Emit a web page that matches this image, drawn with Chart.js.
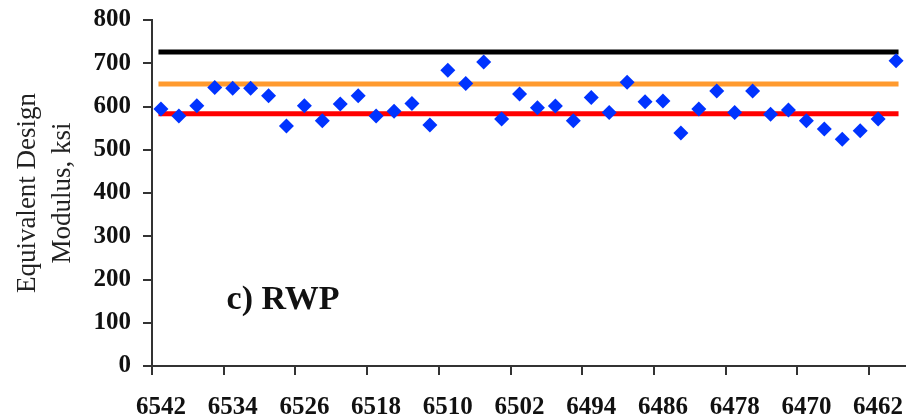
<!DOCTYPE html>
<html>
<head>
<meta charset="utf-8">
<script src="https://cdn.jsdelivr.net/npm/chart.js@4"></script>
<style>
  html, body { margin: 0; padding: 0; background: #fff; }
  #wrap { width: 917px; height: 417px; }
</style>
</head>
<body>
<div id="wrap"><canvas id="modulusChart"></canvas></div>
<script>
// stations, from 6542 down to 6460 in steps of 2
const stations = [
    "6542", "6540", "6538", "6536", "6534", "6532", "6530", "6528", "6526", "6524",
    "6522", "6520", "6518", "6516", "6514", "6512", "6510", "6508", "6506", "6504",
    "6502", "6500", "6498", "6496", "6494", "6492", "6490", "6488", "6486", "6484",
    "6482", "6480", "6478", "6476", "6474", "6472", "6470", "6468", "6466", "6464",
    "6462", "6460"
];

// equivalent design modulus, ksi
const modulus = [
    594, 578, 602, 644, 642, 642, 625, 555, 602, 567,
    606, 625, 578, 589, 607, 557, 684, 653, 703, 571,
    629, 597, 601, 567, 621, 586, 656, 611, 613, 539,
    594, 636, 586, 636, 582, 592, 567, 548, 524, 544,
    571, 706
];

// reference levels
const blackLevel = 726;
const orangeLevel = 652;
const redLevel = 583;

const yTicks = [0, 100, 200, 300, 400, 500, 600, 700, 800];
const labelEvery = 4;

const serif = "'Liberation Serif', 'Times New Roman', serif";

function levelLine(value, color) {
    return {
        type: "line",
        data: [
            { x: stations[0], y: value },
            { x: stations[stations.length - 1], y: value }
        ],
        borderColor: color,
        borderWidth: 5,
        borderCapStyle: "square",
        pointRadius: 0,
        fill: false,
        order: 1
    };
}

const panelLabel = {
    id: "panelLabel",
    afterDatasetsDraw(chart) {
        const { ctx, chartArea } = chart;
        ctx.save();
        ctx.font = "bold 34px " + serif;
        ctx.fillStyle = "#111";
        ctx.textAlign = "left";
        ctx.textBaseline = "alphabetic";
        const x = chartArea.left + (chartArea.right - chartArea.left) * 0.099;
        const y = chartArea.top + (chartArea.bottom - chartArea.top) * 0.835;
        ctx.fillText("c) RWP", x, y);
        ctx.restore();
    }
};

const ctx = document.getElementById("modulusChart").getContext("2d");

let chart = new Chart(ctx, {
    type: "line",
    data: {
        labels: stations,
        datasets: [
            {
                label: "Modulus",
                data: modulus,
                showLine: false,
                pointStyle: "rectRot",
                pointRadius: 7.5,
                pointBackgroundColor: "#0033ff",
                pointBorderColor: "#0033ff",
                pointBorderWidth: 0,
                order: 0
            },
            levelLine(blackLevel, "#000000"),
            levelLine(orangeLevel, "#ff9a2e"),
            levelLine(redLevel, "#ff0000")
        ]
    },
    options: {
        responsive: true,
        maintainAspectRatio: false,
        animation: false,
        layout: { padding: { top: 20, right: 12, left: 0, bottom: 0 } },
        plugins: {
            legend: { display: false },
            tooltip: { enabled: false }
        },
        scales: {
            x: {
                type: "category",
                offset: true,
                afterFit: (scale) => { scale.height = 51; },
                border: { display: true, color: "#333", width: 2 },
                grid: {
                    offset: true,
                    drawOnChartArea: false,
                    tickLength: 9,
                    lineWidth: 2,
                    color: (c) => c.index % labelEvery === 0 ? "#333" : "rgba(0,0,0,0)",
                    tickColor: (c) => c.index % labelEvery === 0 ? "#333" : "rgba(0,0,0,0)"
                },
                ticks: {
                    autoSkip: false,
                    maxRotation: 0,
                    padding: 18,
                    color: "#111",
                    font: { family: serif, size: 25, weight: "bold" },
                    callback: (val, i) => i % labelEvery === 0 ? stations[i] : ""
                }
            },
            y: {
                min: yTicks[0],
                max: yTicks[yTicks.length - 1],
                afterFit: (scale) => {
                    scale.width = 152;
                    scale.paddingTop = 20;
                },
                afterBuildTicks: (scale) => { scale.ticks = yTicks.map(v => ({ value: v })); },
                border: { display: true, color: "#333", width: 2 },
                grid: {
                    drawOnChartArea: false,
                    tickLength: 9,
                    lineWidth: 2,
                    color: "#333"
                },
                ticks: {
                    padding: 12,
                    color: "#111",
                    font: { family: serif, size: 25, weight: "bold" }
                },
                title: {
                    display: true,
                    text: ["Equivalent Design", "Modulus, ksi"],
                    color: "#222",
                    padding: { top: 10, bottom: 0 },
                    font: { family: serif, size: 27, lineHeight: 1.3 }
                }
            }
        }
    },
    plugins: [panelLabel]
});
</script>
</body>
</html>
